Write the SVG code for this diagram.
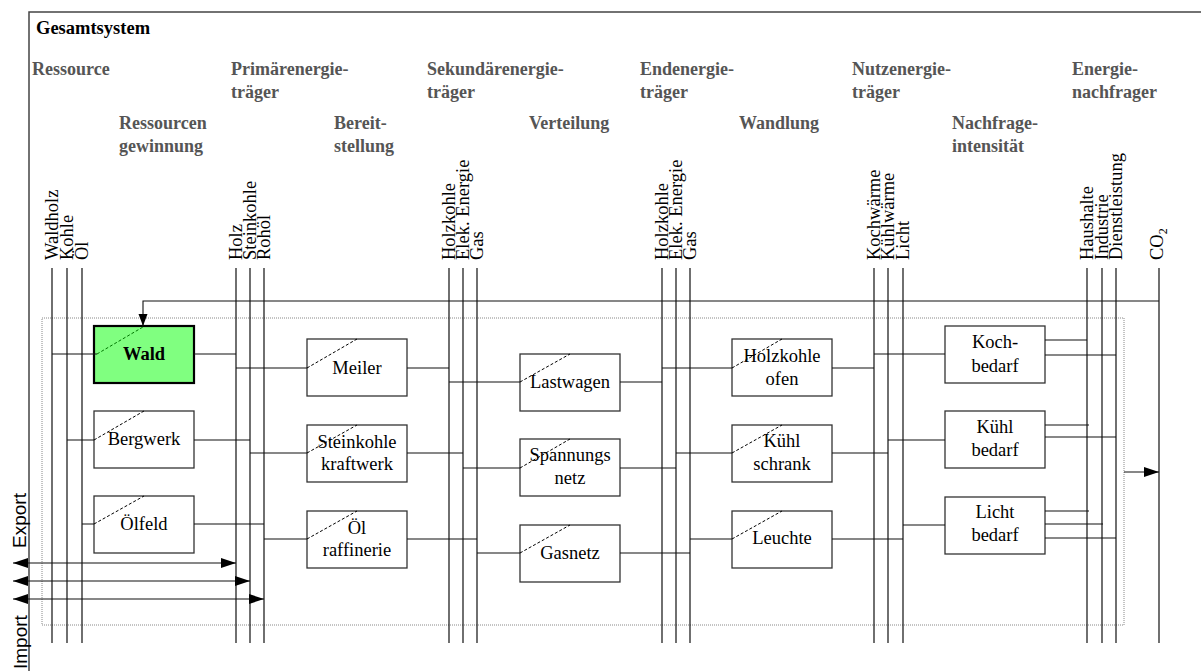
<svg xmlns="http://www.w3.org/2000/svg" width="1201" height="671" viewBox="0 0 1201 671">
<style>
.hdr{font-family:"Liberation Serif",serif;font-weight:bold;font-size:18px;fill:#555}
.ttl{font-family:"Liberation Serif",serif;font-weight:bold;font-size:18.5px;fill:#000}
.lbl{font-family:"Liberation Serif",serif;font-size:18.5px;fill:#000}
.bt{font-family:"Liberation Serif",serif;font-size:18.5px;fill:#000;text-anchor:middle}
.sans{font-family:"Liberation Sans",sans-serif;font-size:19px;fill:#000}
.box{fill:#fff;stroke:#333;stroke-width:1.3}
.diag{stroke:#000;stroke-width:1;stroke-dasharray:3,2;fill:none}
.ln{stroke:#111;stroke-width:1.1;fill:none}
.bus{stroke:#111;stroke-width:1.2;fill:none}
.frame{stroke:#444;stroke-width:1.5;fill:none}
.dot{stroke:#888;stroke-width:1;stroke-dasharray:1,1;fill:none}
</style>
<defs>
<marker id="ah" markerUnits="userSpaceOnUse" markerWidth="16" markerHeight="11" refX="15" refY="5" orient="auto-start-reverse"><path d="M0,0 L15,5 L0,10 z" fill="#000"/></marker>
<marker id="ahs" markerUnits="userSpaceOnUse" markerWidth="13" markerHeight="10" refX="12" refY="4.5" orient="auto"><path d="M0,0 L12,4.5 L0,9 z" fill="#000"/></marker>
</defs>
<rect width="1201" height="671" fill="#fff"/>
<g id="frame">
<path class="frame" d="M29,671 V12 H1201"/>
<rect class="dot" x="42" y="318" width="1082" height="307"/>
<text class="ttl" x="36" y="34">Gesamtsystem</text>
</g>
<g id="headers">
<text class="hdr" x="32" y="75">Ressource</text>
<text class="hdr" x="231" y="75">Primärenergie-</text>
<text class="hdr" x="231" y="98">träger</text>
<text class="hdr" x="119" y="129">Ressourcen</text>
<text class="hdr" x="119" y="152">gewinnung</text>
<text class="hdr" x="334" y="129">Bereit-</text>
<text class="hdr" x="334" y="152">stellung</text>
<text class="hdr" x="427" y="75">Sekundärenergie-</text>
<text class="hdr" x="427" y="98">träger</text>
<text class="hdr" x="529" y="129">Verteilung</text>
<text class="hdr" x="640" y="75">Endenergie-</text>
<text class="hdr" x="640" y="98">träger</text>
<text class="hdr" x="739" y="129">Wandlung</text>
<text class="hdr" x="852" y="75">Nutzenergie-</text>
<text class="hdr" x="852" y="98">träger</text>
<text class="hdr" x="952" y="129">Nachfrage-</text>
<text class="hdr" x="952" y="152">intensität</text>
<text class="hdr" x="1072" y="75">Energie-</text>
<text class="hdr" x="1072" y="98">nachfrager</text>
</g>
<g id="bus-ressource">
<path class="bus" d="M52,268 V643 M67,268 V643 M82,268 V643"/>
<text class="lbl" transform="translate(58,260) rotate(-90)">Waldholz</text>
<text class="lbl" transform="translate(73,260) rotate(-90)">Kohle</text>
<text class="lbl" transform="translate(88,260) rotate(-90)">Öl</text>
</g>
<g id="bus-primaer">
<path class="bus" d="M236,268 V643 M250,268 V643 M264,268 V643"/>
<text class="lbl" transform="translate(242,260) rotate(-90)">Holz</text>
<text class="lbl" transform="translate(256,260) rotate(-90)">Steinkohle</text>
<text class="lbl" transform="translate(270,260) rotate(-90)">Rohöl</text>
</g>
<g id="bus-sekundaer">
<path class="bus" d="M449,268 V643 M463,268 V643 M477,268 V643"/>
<text class="lbl" transform="translate(455,260) rotate(-90)">Holzkohle</text>
<text class="lbl" transform="translate(469,260) rotate(-90)">Elek. Energie</text>
<text class="lbl" transform="translate(483,260) rotate(-90)">Gas</text>
</g>
<g id="bus-end">
<path class="bus" d="M662,268 V643 M676,268 V643 M690,268 V643"/>
<text class="lbl" transform="translate(668,260) rotate(-90)">Holzkohle</text>
<text class="lbl" transform="translate(682,260) rotate(-90)">Elek. Energie</text>
<text class="lbl" transform="translate(696,260) rotate(-90)">Gas</text>
</g>
<g id="bus-nutz">
<path class="bus" d="M874,268 V643 M888,268 V643 M903,268 V643"/>
<text class="lbl" transform="translate(880,260) rotate(-90)">Kochwärme</text>
<text class="lbl" transform="translate(894,260) rotate(-90)">Kühlwärme</text>
<text class="lbl" transform="translate(909,260) rotate(-90)">Licht</text>
</g>
<g id="bus-nachfrager">
<path class="bus" d="M1087,268 V643 M1102,268 V643 M1116,268 V643"/>
<text class="lbl" transform="translate(1093,260) rotate(-90)">Haushalte</text>
<text class="lbl" transform="translate(1108,260) rotate(-90)">Industrie</text>
<text class="lbl" transform="translate(1122,260) rotate(-90)">Dienstleistung</text>
</g>
<g id="bus-co2">
<path class="bus" d="M1159,268 V643"/>
<text class="lbl" transform="translate(1163,260) rotate(-90)">CO<tspan font-size="12" dy="4">2</tspan></text>
</g>
<g id="n-wald">
<rect x="94" y="326" width="100" height="57" fill="#80ff80" stroke="#000" stroke-width="2.2"/>
<path class="diag" d="M97,354 L143,327" style="stroke:#070"/>
<text class="bt" x="144" y="360" font-weight="bold">Wald</text>
</g>
<g id="n-bergwerk">
<rect class="box" x="94" y="411" width="100" height="57"/>
<path class="diag" d="M94,440 L144,411"/>
<text class="bt" x="144" y="445">Bergwerk</text>
</g>
<g id="n-oelfeld">
<rect class="box" x="94" y="496" width="100" height="57"/>
<path class="diag" d="M94,524 L144,496"/>
<text class="bt" x="144" y="530">Ölfeld</text>
</g>
<g id="n-meiler">
<rect class="box" x="307" y="339" width="100" height="57"/>
<path class="diag" d="M307,368 L357,339"/>
<text class="bt" x="357" y="374">Meiler</text>
</g>
<g id="n-steinkohlekraftwerk">
<rect class="box" x="307" y="425" width="100" height="57"/>
<path class="diag" d="M307,453 L357,425"/>
<text class="bt" x="357" y="448">Steinkohle</text>
<text class="bt" x="357" y="470">kraftwerk</text>
</g>
<g id="n-oelraffinerie">
<rect class="box" x="307" y="511" width="100" height="57"/>
<path class="diag" d="M307,539 L357,511"/>
<text class="bt" x="357" y="534">Öl</text>
<text class="bt" x="357" y="556">raffinerie</text>
</g>
<g id="n-lastwagen">
<rect class="box" x="520" y="354" width="100" height="57"/>
<path class="diag" d="M520,382 L570,354"/>
<text class="bt" x="570" y="388">Lastwagen</text>
</g>
<g id="n-spannungsnetz">
<rect class="box" x="520" y="439" width="100" height="57"/>
<path class="diag" d="M520,468 L570,439"/>
<text class="bt" x="570" y="461">Spannungs</text>
<text class="bt" x="570" y="484">netz</text>
</g>
<g id="n-gasnetz">
<rect class="box" x="520" y="525" width="100" height="57"/>
<path class="diag" d="M520,553 L570,525"/>
<text class="bt" x="570" y="559">Gasnetz</text>
</g>
<g id="n-holzkohleofen">
<rect class="box" x="732" y="339" width="100" height="57"/>
<path class="diag" d="M732,368 L782,339"/>
<text class="bt" x="782" y="362">Holzkohle</text>
<text class="bt" x="782" y="385">ofen</text>
</g>
<g id="n-kuehlschrank">
<rect class="box" x="732" y="425" width="100" height="57"/>
<path class="diag" d="M732,453 L782,425"/>
<text class="bt" x="782" y="447">Kühl</text>
<text class="bt" x="782" y="470">schrank</text>
</g>
<g id="n-leuchte">
<rect class="box" x="732" y="511" width="100" height="57"/>
<path class="diag" d="M732,539 L782,511"/>
<text class="bt" x="782" y="544">Leuchte</text>
</g>
<g id="n-kochbedarf">
<rect class="box" x="945" y="326" width="100" height="57"/>
<text class="bt" x="995" y="348">Koch-</text>
<text class="bt" x="995" y="372">bedarf</text>
</g>
<g id="n-kuehlbedarf">
<rect class="box" x="945" y="411" width="100" height="57"/>
<text class="bt" x="995" y="433">Kühl</text>
<text class="bt" x="995" y="456">bedarf</text>
</g>
<g id="n-lichtbedarf">
<rect class="box" x="945" y="497" width="100" height="57"/>
<text class="bt" x="995" y="518">Licht</text>
<text class="bt" x="995" y="541">bedarf</text>
</g>
<g id="connectors">
<path class="ln" d="M52,354 H97 M67,440 H94 M82,524 H94"/>
<path class="ln" d="M194,354 H236 M194,440 H250 M194,524 H264"/>
<path class="ln" d="M236,368 H307 M250,453 H307 M264,539 H307"/>
<path class="ln" d="M407,368 H449 M407,453 H463 M407,539 H477"/>
<path class="ln" d="M449,382 H520 M463,468 H520 M477,553 H520"/>
<path class="ln" d="M620,382 H662 M620,468 H676 M620,553 H690"/>
<path class="ln" d="M662,368 H732 M676,453 H732 M690,539 H732"/>
<path class="ln" d="M832,368 H874 M832,453 H888 M832,539 H903"/>
<path class="ln" d="M874,354 H945 M888,440 H945 M903,525 H945"/>
<path class="ln" d="M1045,340 H1087 M1045,355 H1116 M1045,425 H1089 M1045,437 H1116 M1045,511 H1089 M1045,524 H1103 M1045,538 H1116"/>
<path class="ln" d="M1159,301 H143 V326" marker-end="url(#ahs)"/>
<path class="ln" d="M1124,472 H1159" marker-end="url(#ah)"/>
<path class="ln" d="M13,563 H236" marker-start="url(#ah)" marker-end="url(#ah)"/>
<path class="ln" d="M13,581 H250" marker-start="url(#ah)" marker-end="url(#ah)"/>
<path class="ln" d="M13,599 H264" marker-start="url(#ah)" marker-end="url(#ah)"/>
</g>
<g id="side-labels">
<text class="sans" transform="translate(26,548) rotate(-90)">Export</text>
<text class="sans" transform="translate(27,669) rotate(-90)">Import</text>
</g>
</svg>
